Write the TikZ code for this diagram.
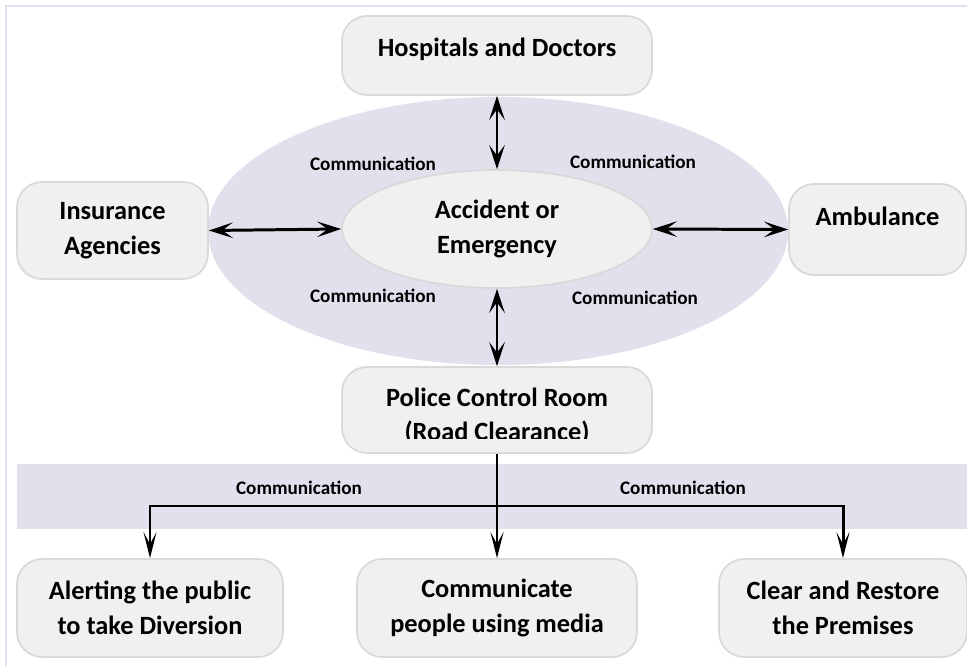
\documentclass[tikz,border=0pt]{standalone}
\usepackage{fontspec}
\setmainfont{Carlito}
\usetikzlibrary{shapes.geometric,arrows.meta}
\definecolor{lav}{HTML}{E4DFEC}
\definecolor{boxfill}{HTML}{F0F0F0}
\definecolor{boxline}{HTML}{D9D9D9}
\tikzset{
  box/.style={draw=boxline, line width=1pt, fill=boxfill, rounded corners=5mm,
    align=center, font=\fontsize{15}{19.6}\selectfont\bfseries},
  boxtext/.style={align=center, font=\fontsize{15}{19.6}\selectfont\bfseries},
  comm/.style={font=\fontsize{10.9}{13}\selectfont\bfseries},
  wide tip/.tip={Stealth[length=4.8mm,width=3.1mm,inset=2.1mm]},
  long tip/.tip={Stealth[length=5.2mm,width=2.6mm,inset=2.4mm]},
  link/.style={line width=1.7pt, wide tip-wide tip},
  feed/.style={line width=1.7pt, -long tip}
}
\begin{document}
\begin{tikzpicture}[x=0.02cm,y=-0.02cm]
        \useasboundingbox (0,0) rectangle (967,666);
        \draw[lav, line width=1pt] (6,666) -- (6,6) -- (967,6);
        % background shapes
        \fill[lav] (498,231) ellipse [x radius=290, y radius=134];
        \fill[lav] (17,464) rectangle (967,529);
        % nodes
        \node[box, minimum width=6.2cm, minimum height=1.58cm, text depth=9pt] (hosp) at (497,55.5) {Hospitals and Doctors};
        \node[box, minimum width=3.82cm, minimum height=1.94cm] (insur) at (112.5,230.5) {Insurance\\Agencies};
        \node[box, minimum width=3.54cm, minimum height=1.82cm, text depth=15.5pt] (amb) at (877.5,229.5) {Ambulance};
        \node[box, ellipse, rounded corners=0pt, minimum width=6.2cm, minimum height=2.36cm] (acc) at (497,229) {Accident or\\Emergency};
        \node[box, minimum width=6.2cm, minimum height=1.72cm] (police) at (497,410) {};
        \begin{scope}
          \clip (342,367) rectangle (652,438);
          \node[boxtext] (policetxt) at (497,416) {Police Control Room\\(Road Clearance)};
        \end{scope}
        \node[box, minimum width=5.32cm, minimum height=1.96cm] (alert) at (150,608) {Alerting the public\\to take Diversion};
        \node[box, minimum width=5.6cm, minimum height=1.96cm] (media) at (497,608) {Communicate\\people using media};
        \node[box, minimum width=4.96cm, minimum height=1.96cm] (clear) at (843,608) {Clear and Restore\\the Premises};
        % labels
        \foreach \x/\y/\n in {373/164/a, 633/162/b, 373/296/c, 635/298/d, 299/488/e, 683/488/f} {
          \node[comm] (comm\n) at (\x,\y) {Communication};
        }
        % connectors
        \draw[link] (hosp.south) -- (acc.north);
        \draw[link] (insur.east) -- (acc.west);
        \draw[link] (amb.west) -- (acc.east);
        \draw[link] (acc.south) -- (police.north);
        \coordinate (split) at (497,506);
        \draw[feed] (police.south) -- (media.north);
        \draw[feed] (split) -| (alert.north);
        \draw[feed] (split) -| (clear.north);
      \end{tikzpicture}
\end{document}
